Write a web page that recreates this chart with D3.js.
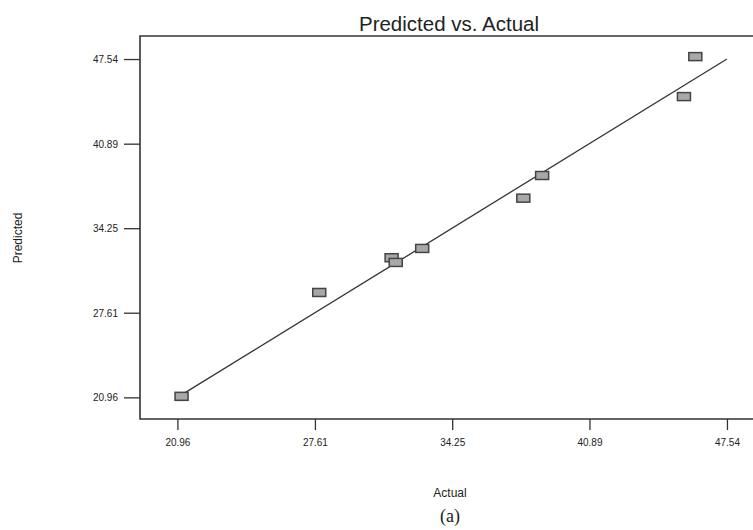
<!DOCTYPE html>
<html>
	<head>
		<title></title>
		<style>
			body { margin: 0; background: #fff; }
			text { font-family: "Liberation Sans", Arial, sans-serif; fill: #222; }
		</style>
	</head>
	<body>
	<div id="chart"></div>
		<script src="https://cdn.jsdelivr.net/npm/d3@7"></script>

		<script>
			// values
			var actual    = [21.16, 27.82, 31.32, 31.52, 32.80, 37.69, 38.60, 45.46, 46.01];
			var predicted = [21.04, 29.20, 31.93, 31.56, 32.66, 36.61, 38.39, 44.59, 47.73];
			var tickLabels = ['20.96', '27.61', '34.25', '40.89', '47.54'];
			var fitLine = [20.96, 47.54];

			var W = 753, H = 530;
			var plotLeft = 140, plotTop = 36, plotBottom = 419, plotRight = 753;

			var svg = d3.select('#chart').append('svg').attr('width', W).attr('height', H);

			var x = d3.scaleLinear().domain([19.15, 48.8]).range([plotLeft, plotRight]);
			var y = d3.scaleLinear().domain([19.26, 49.35]).range([plotBottom, plotTop]);
			var ticks = tickLabels.map(Number);

			var xAxis = svg.append('g').attr('transform', 'translate(0,' + plotBottom + ')')
				.call(d3.axisBottom(x).tickValues(ticks).tickFormat(function(d, i){ return tickLabels[i]; })
					.tickSize(11).tickSizeOuter(0).tickPadding(9));
			var yAxis = svg.append('g').attr('transform', 'translate(' + plotLeft + ',0)')
				.call(d3.axisLeft(y).tickValues(ticks).tickFormat(function(d, i){ return tickLabels[i]; })
					.tickSize(16).tickSizeOuter(0).tickPadding(6));

			[xAxis, yAxis].forEach(function(g){
				g.select('.domain').remove();
				g.selectAll('line').attr('stroke', '#333').attr('stroke-width', 1.3);
				g.selectAll('text').style('font-size', '10px').attr('fill', '#333');
			});
			yAxis.selectAll('text').attr('dy', '0.35em');

			// frame (right side runs off the page)
			svg.append('path')
				.attr('d', ['M', plotRight, plotTop, 'H', plotLeft, 'V', plotBottom, 'H', plotRight].join(' '))
				.attr('fill', 'none').attr('stroke', '#333').attr('stroke-width', 1.6);

			// y = x reference line
			svg.append('line')
				.attr('x1', x(fitLine[0])).attr('y1', y(fitLine[0]))
				.attr('x2', x(fitLine[1])).attr('y2', y(fitLine[1]))
				.attr('stroke', '#333').attr('stroke-width', 1.3);

			var pts = actual.map(function(a, i){ return {a: a, p: predicted[i]}; });
			svg.selectAll('rect.pt').data(pts).enter().append('rect')
				.attr('class', 'pt')
				.attr('x', function(d){ return x(d.a) - 6.5; })
				.attr('y', function(d){ return y(d.p) - 4; })
				.attr('width', 13).attr('height', 8)
				.attr('fill', '#a8a8a8').attr('stroke', '#444').attr('stroke-width', 1.5);

			svg.append('text').attr('x', 449).attr('y', 31).attr('text-anchor', 'middle')
				.style('font-size', '20.5px').text('Predicted vs. Actual');

			svg.append('text').attr('x', 450).attr('y', 497).attr('text-anchor', 'middle')
				.style('font-size', '12px').text('Actual');

			svg.append('text').attr('transform', 'translate(22,238) rotate(-90)').attr('text-anchor', 'middle')
				.style('font-size', '12px').text('Predicted');

			svg.append('text').attr('x', 450).attr('y', 522).attr('text-anchor', 'middle')
				.style('font-family', '"Liberation Serif", "Times New Roman", serif')
				.style('font-size', '18px').text('(a)');
		</script>
	</body>
</html>
